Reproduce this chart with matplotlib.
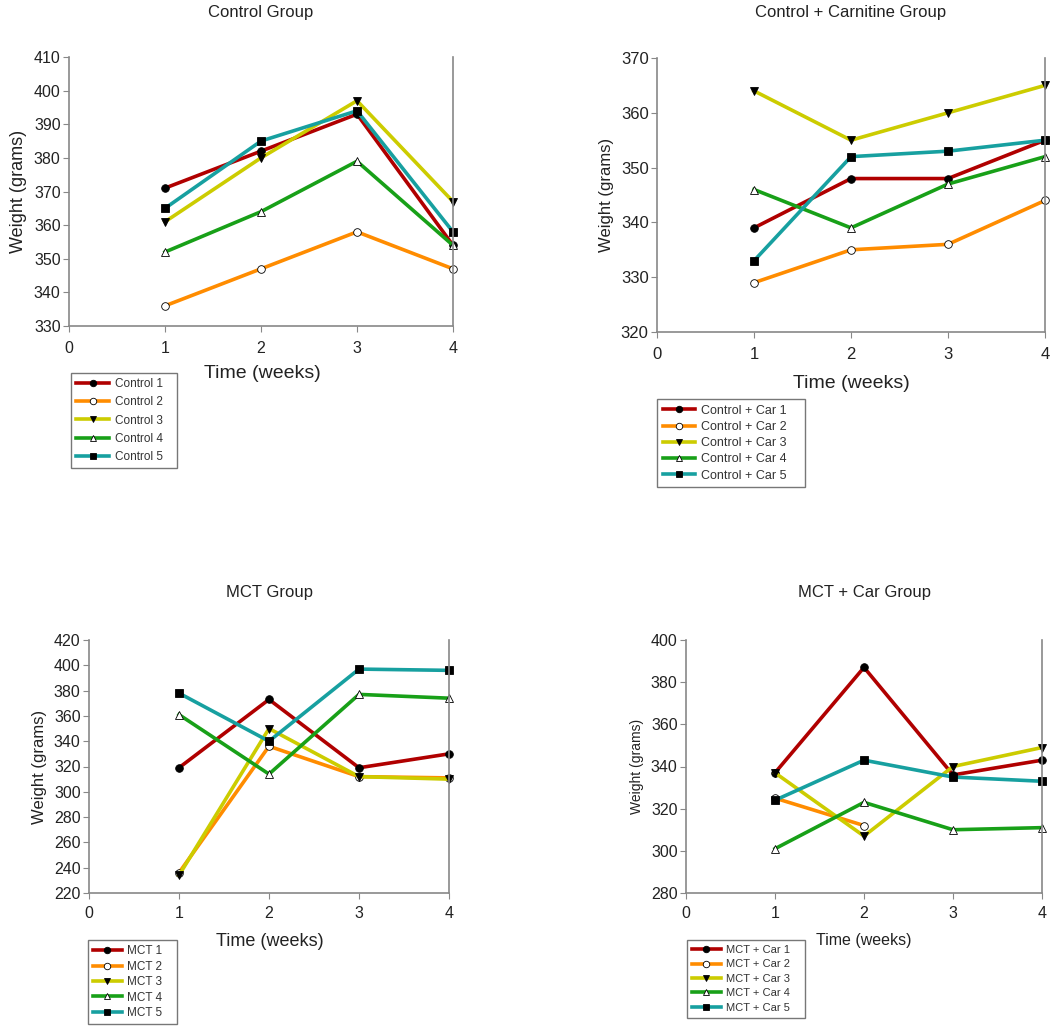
import matplotlib
matplotlib.use('Agg')
import matplotlib.pyplot as plt

weeks = [1, 2, 3, 4]

control_names = ['Control 1', 'Control 2', 'Control 3', 'Control 4', 'Control 5']
control_vals = [
    [371, 382, 393, 354],
    [336, 347, 358, 347],
    [361, 380, 397, 367],
    [352, 364, 379, 354],
    [365, 385, 394, 358],
]

carn_names = ['Control + Car 1', 'Control + Car 2', 'Control + Car 3',
              'Control + Car 4', 'Control + Car 5']
carn_vals = [
    [339, 348, 348, 355],
    [329, 335, 336, 344],
    [364, 355, 360, 365],
    [346, 339, 347, 352],
    [333, 352, 353, 355],
]

mct_names = ['MCT 1', 'MCT 2', 'MCT 3', 'MCT 4', 'MCT 5']
mct_vals = [
    [319, 373, 319, 330],
    [236, 336, 312, 311],
    [234, 350, 312, 310],
    [361, 314, 377, 374],
    [378, 340, 397, 396],
]

mctcar_names = ['MCT + Car 1', 'MCT + Car 2', 'MCT + Car 3', 'MCT + Car 4', 'MCT + Car 5']
mctcar_weeks = [[1, 2, 3, 4], [1, 2], [1, 2, 3, 4], [1, 2, 3, 4], [1, 2, 3, 4]]
mctcar_vals = [
    [337, 387, 336, 343],
    [325, 312],
    [337, 307, 340, 349],
    [301, 323, 310, 311],
    [324, 343, 335, 333],
]

colors = ['#b00000', '#ff8c00', '#cccc00', '#18a018', '#17a0a0']
markers = ['o', 'o', 'v', '^', 's']
mfaces = ['black', 'white', 'black', 'white', 'black']

W, H = 1050, 1029
fig = plt.figure(figsize=(W / 100, H / 100), dpi=100)
plt.rcParams['font.family'] = ['Liberation Sans', 'DejaVu Sans']


def px(l, t, r, b):
    return [l / W, 1 - b / H, (r - l) / W, (b - t) / H]


def panel(rect, title, title_y, names, xs, vals, ylim, ystep, leg_rect,
          xlab, ylab_size, tick_size, xpad, leg_size, leg_space, handle_len):
    ax = fig.add_axes(px(*rect))
    for i, (name, v) in enumerate(zip(names, vals)):
        x = xs[i] if isinstance(xs[0], list) else xs
        ax.plot(x, v, color=colors[i], lw=2.6, marker=markers[i], ms=5.5,
                mfc=mfaces[i], mec='black', mew=0.6, label=name, clip_on=False)
    ax.set_xlim(0, 4)
    ax.set_ylim(*ylim)
    ax.set_xticks([0, 1, 2, 3, 4])
    ax.set_yticks(range(ylim[0], ylim[1] + 1, ystep))
    for s in ['left', 'bottom', 'right']:
        ax.spines[s].set_color('#888888')
        ax.spines[s].set_linewidth(1.2)
    ax.spines['top'].set_visible(False)
    ax.tick_params(colors='#888888', labelcolor='#222222', labelsize=tick_size,
                   direction='out', length=4, pad=2, right=False)
    ax.tick_params(axis='x', pad=xpad)
    fig.text((rect[0] + rect[2]) / 2 / W, 1 - title_y / H, title,
             ha='center', va='center', fontsize=12, color='#222222')
    ax.set_ylabel('Weight (grams)', fontsize=ylab_size, color='#222222', labelpad=5)
    fig.text(xlab[0] / W, 1 - xlab[1] / H, 'Time (weeks)',
             ha='center', va='center', fontsize=xlab[2], color='#222222')
    leg = ax.legend(loc='upper left', bbox_to_anchor=px(*leg_rect),
                    bbox_transform=fig.transFigure, mode='expand',
                    fontsize=leg_size, frameon=True, fancybox=False,
                    handlelength=handle_len, handletextpad=0.45, markerscale=0.85,
                    labelspacing=leg_space, borderaxespad=0, borderpad=0.45)
    leg.get_frame().set_edgecolor('#555555')
    leg.get_frame().set_linewidth(1.0)
    for t in leg.get_texts():
        t.set_color('#333333')
    return ax


panel((69, 57, 453, 326), 'Control Group', 12, control_names, weeks, control_vals,
      (330, 410), 10, (71, 373, 177, 467), (262, 373, 14),
      13, 11.5, 7, 8.5, 0.52, 2.8)
panel((657, 58, 1045, 332), 'Control + Carnitine Group', 12, carn_names, weeks, carn_vals,
      (320, 370), 10, (657, 399, 805, 493), (851, 383, 14),
      12, 12, 7, 9, 0.34, 2.6)
panel((89, 640, 449, 893), 'MCT Group', 593, mct_names, weeks, mct_vals,
      (220, 420), 20, (88, 940, 177, 1023), (270, 942, 13),
      12, 11.5, 5, 8.5, 0.29, 2.4)
panel((686, 640, 1042, 893), 'MCT + Car Group', 593, mctcar_names, mctcar_weeks, mctcar_vals,
      (280, 400), 20, (687, 940, 805, 1019), (864, 941, 11.5),
      10, 11.5, 5, 8, 0.4, 2.6)

fig.savefig('out.png', dpi=100)
